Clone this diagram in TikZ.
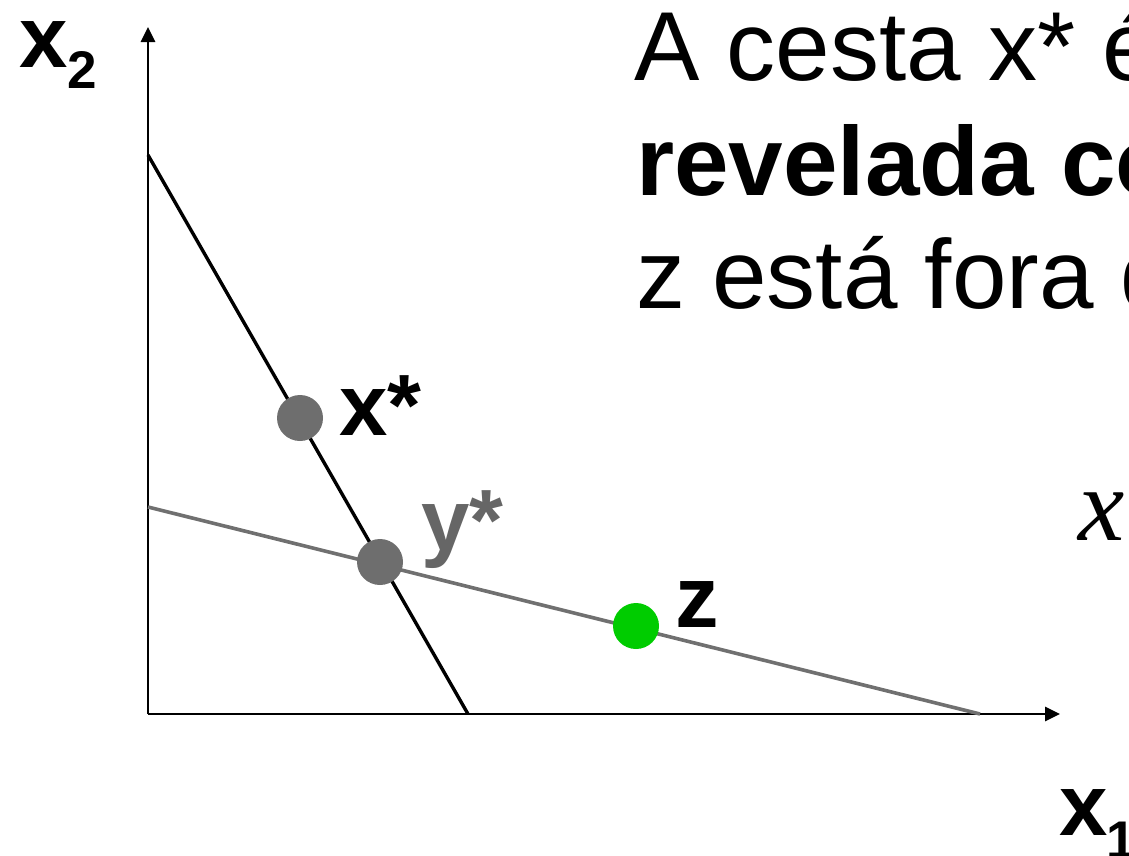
\documentclass[tikz,border=0pt]{standalone}
\usepackage{fontspec}
\setmainfont{Liberation Sans}
\newfontfamily\mathserif{Liberation Serif}
\usetikzlibrary{arrows.meta}
\definecolor{dotgray}{HTML}{6E6E6E}
\definecolor{linegray}{HTML}{707070}
\definecolor{labgray}{HTML}{666666}
\definecolor{zgreen}{HTML}{00CC00}
\begin{document}
\begin{tikzpicture}[x=1pt,y=-1pt,
  axis/.style={line width=2.7pt,-{Triangle[length=15pt,width=14pt]}},
  dot/.style={circle,inner sep=0pt,minimum size=46pt,draw=none},
  lab/.style={anchor=base west,inner sep=0pt,font=\fontsize{87}{100}\selectfont\bfseries},
  sub/.style={anchor=base west,inner sep=0pt,font=\fontsize{53}{60}\selectfont\bfseries},
  body/.style={anchor=base west,inner sep=0pt,font=\fontsize{98}{114}\selectfont}]
\useasboundingbox (0,0) rectangle (1129,855);
\clip (0,0) rectangle (1129,855);
\coordinate (O) at (148,714);
\coordinate (ytip) at (148,27);
\coordinate (xtip) at (1060,714);
\coordinate (b1) at (148,155);
\coordinate (b2) at (468,714);
\coordinate (g1) at (148,507);
\coordinate (g2) at (980,714);
\draw[axis] (O) -- (ytip);
\draw[axis] (O) -- (xtip);
\draw[line width=3.4pt,black] (b1) -- (b2);
\draw[line width=3.6pt,linegray] (g1) -- (g2);
\node[dot,fill=dotgray] (xs) at (300,418) {};
\node[dot,fill=dotgray] (ys) at (380,562) {};
\node[dot,fill=zgreen] (z) at (636,626) {};
\node[lab] (xsl) at (339,435) {x*};
\node[lab,text=labgray] (ysl) at (421,550) {y*};
\node[lab] (zl) at (675,627) {z};
\node[lab] (x2) at (19,67) {x};
\node[sub] (x2s) at (67,88) {2};
\node[lab] (x1) at (1059,835) {x};
\node[sub] (x1s) at (1106,858) {1};
\node[body] (t1) at (634,80) {A cesta x* é};
\node[body,font=\fontsize{98}{114}\selectfont\bfseries] (t2) at (636,195) {revelada co};
\node[body] (t3) at (636,308) {z está fora d};
\node[anchor=base west,inner sep=0pt,font=\fontsize{104}{110}\selectfont\mathserif\itshape] (mx) at (1078,540) {x};
\end{tikzpicture}
\end{document}
